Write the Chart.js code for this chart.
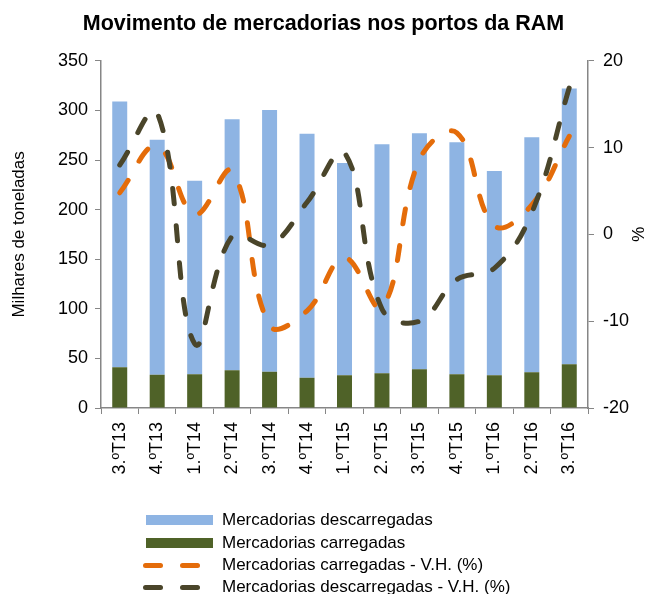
<!DOCTYPE html>
<html>
<head>
<meta charset="utf-8">
<script src="https://cdn.jsdelivr.net/npm/chart.js@4.4.0/dist/chart.umd.min.js"></script>
<style>
  body { margin: 0; background: #fff; font-family: "Liberation Sans", Arial, sans-serif; }
  #wrap { position: relative; width: 647px; height: 594px; }
  #legend { position: absolute; left: 143px; top: 509px; font-size: 17px; color: #000; }
  .item { height: 22.4px; display: flex; align-items: center; }
  .sw { width: 79px; height: 22px; position: relative; }
  .bar { position: absolute; left: 3px; top: 6px; width: 67px; height: 10px; }
  .dash { position: absolute; top: 9px; width: 20px; height: 5px; border-radius: 3px; }
</style>
</head>
<body>
<div id="wrap">
  <canvas id="chart" width="647" height="594"></canvas>
  <div id="legend"></div>
</div>
<script>
const quarters = ["3.ºT13", "4.ºT13", "1.ºT14", "2.ºT14", "3.ºT14", "4.ºT14", "1.ºT15",
  "2.ºT15", "3.ºT15", "4.ºT15", "1.ºT16", "2.ºT16", "3.ºT16"];
// thousand tonnes
const carregadas = [41, 33.5, 34, 38, 36.5, 30.5, 33, 35, 39, 34, 33, 36, 44];
const descarregadas = [268, 237, 195, 253, 264, 246, 214, 231, 238, 234, 206, 237, 278];
// year-on-year change, %
const vh_carregadas = [4.8, 10.2, 2.3, 7.3, -10.5, -8.8, -2.7, -8.4, 8.6, 11.7, 1.0, 3.4, 11.3];
const vh_descarregadas = [8.0, 14.0, -12.6, -0.2, -1.2, 3.7, 9.4, -8.6, -10.0, -5.2, -3.9, 2.5, 16.9];

const colors = {
  desc: "#8EB4E3",
  carr: "#4F6228",
  vhCarr: "#E46C0A",
  vhDesc: "#4A452A",
  axis: "#868686",
};

const tickFont = { family: "Liberation Sans", size: 18 };

function buildLegend() {
  const entries = [
    { label: "Mercadorias descarregadas", color: colors.desc, type: "bar" },
    { label: "Mercadorias carregadas", color: colors.carr, type: "bar" },
    { label: "Mercadorias carregadas - V.H. (%)", color: colors.vhCarr, type: "line" },
    { label: "Mercadorias descarregadas - V.H. (%)", color: colors.vhDesc, type: "line" },
  ];
  let html = "";
  for (const e of entries) {
    let sw;
    if (e.type == "bar") {
      sw = `<div class="bar" style="background:${e.color}"></div>`;
    } else {
      sw = `<div class="dash" style="left:0;background:${e.color}"></div>` +
           `<div class="dash" style="left:37px;background:${e.color}"></div>`;
    }
    html += `<div class="item"><div class="sw">${sw}</div><span>${e.label}</span></div>`;
  }
  document.getElementById("legend").innerHTML = html;
}

function setupChart() {
  const lineStyle = {
    type: "line",
    yAxisID: "y1",
    pointRadius: 0,
    borderWidth: 5,
    borderDash: [15, 22],
    borderCapStyle: "round",
    tension: 0.4,
    fill: false,
  };

  const data = {
    labels: quarters,
    datasets: [
      {
        label: "Mercadorias carregadas",
        data: carregadas,
        backgroundColor: colors.carr,
        stack: "m",
        order: 2,
      },
      {
        label: "Mercadorias descarregadas",
        data: descarregadas,
        backgroundColor: colors.desc,
        stack: "m",
        order: 2,
      },
      Object.assign({}, lineStyle, {
        label: "Mercadorias carregadas - V.H. (%)",
        data: vh_carregadas,
        borderColor: colors.vhCarr,
        order: 1,
      }),
      Object.assign({}, lineStyle, {
        label: "Mercadorias descarregadas - V.H. (%)",
        data: vh_descarregadas,
        borderColor: colors.vhDesc,
        order: 0,
      }),
    ],
  };

  const config = {
    type: "bar",
    data: data,
    options: {
      responsive: false,
      animation: false,
      barPercentage: 0.4,
      categoryPercentage: 1,
      layout: { padding: { left: 0, right: 0, top: 0, bottom: 0 } },
      plugins: {
        legend: { display: false },
        tooltip: { enabled: false },
        title: {
          display: true,
          text: "Movimento de mercadorias nos portos da RAM",
          color: "#000",
          font: { family: "Liberation Sans", size: 21.5, weight: "bold" },
          padding: { top: 11, bottom: 24 },
        },
      },
      scales: {
        x: {
          stacked: true,
          grid: { display: true, drawOnChartArea: false, color: colors.axis, tickLength: 6 },
          border: { color: colors.axis, width: 1.5 },
          ticks: { color: "#000", font: tickFont, minRotation: 90, maxRotation: 90, padding: 8 },
          afterFit: (s) => { s.height = 594 - 408; },
        },
        y: {
          stacked: true,
          position: "left",
          min: 0,
          max: 350,
          grid: { display: true, drawOnChartArea: false, color: colors.axis, tickLength: 6 },
          border: { color: colors.axis, width: 1.5 },
          ticks: { stepSize: 50, color: "#000", font: tickFont, padding: 7 },
          title: {
            display: true,
            text: "Milhares de toneladas",
            color: "#000",
            font: { family: "Liberation Sans", size: 17 },
            padding: { top: 9, bottom: 0 },
          },
          afterFit: (s) => { s.width = 101; },
        },
        y1: {
          position: "right",
          min: -20,
          max: 20,
          grid: { display: true, drawOnChartArea: false, color: colors.axis, tickLength: 6 },
          border: { color: colors.axis, width: 1.5 },
          ticks: { stepSize: 10, color: "#000", font: tickFont, padding: 9 },
          title: {
            display: true,
            text: "%",
            color: "#000",
            font: { family: "Liberation Sans", size: 17 },
            padding: { top: 0, bottom: 0 },
          },
          afterFit: (s) => { s.width = 647 - 588; },
        },
      },
    },
  };

  new Chart(document.getElementById("chart"), config);
}

function main() {
  buildLegend();
  setupChart();
}

document.addEventListener("DOMContentLoaded", main, false);
</script>
</body>
</html>
